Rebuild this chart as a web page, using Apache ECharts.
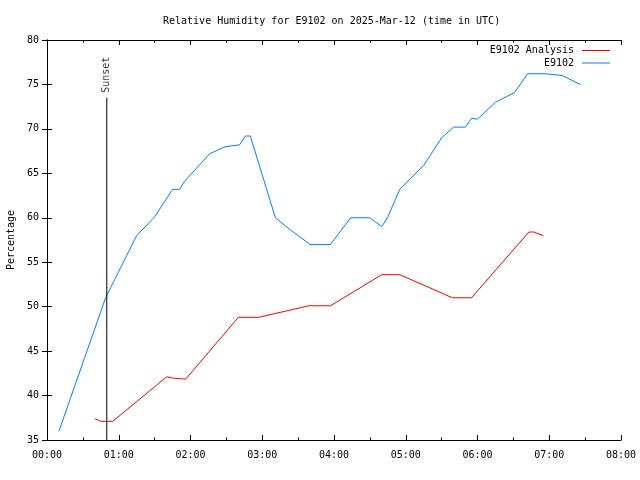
<!DOCTYPE html>
<html>
<head>
<meta charset="utf-8">
<script src="https://cdn.jsdelivr.net/npm/echarts@6/dist/echarts.min.js"></script>
<style>html,body{margin:0;padding:0;background:#fff}#c{width:640px;height:480px}</style>
</head>
<body>
<div id="c"></div>
<script>
// minutes after 00:00 UTC
var obsTimes  = [10, 49, 75, 90, 105, 111, 115, 136, 149, 161, 166, 170, 191, 203, 220, 237, 254, 270, 280, 285, 295, 315, 330, 340, 350, 355, 360, 375, 391, 402, 417, 418, 431, 446];
var obsValues = [36.0, 51.0, 58.0, 60.1, 63.2, 63.2, 64.1, 67.2, 68.0, 68.2, 69.2, 69.2, 60.0, 58.7, 57.0, 57.0, 60.0, 60.0, 59.0, 60.1, 63.2, 65.9, 69.0, 70.2, 70.2, 71.2, 71.1, 73.0, 74.1, 76.2, 76.2, 76.0, 76.0, 75.0];
var anaTimes  = [40, 45, 55, 100, 106, 116, 160, 177, 219, 237, 280, 295, 339, 355, 403, 407, 415];
var anaValues = [37.4, 37.1, 37.1, 42.1, 41.95, 41.85, 48.8, 48.8, 50.1, 50.1, 53.6, 53.6, 51.0, 51.0, 58.4, 58.4, 58.0];
var sunsetTime = 50;
var sunsetTop = 73.5;
var xTickLabels = ['00:00','01:00','02:00','03:00','04:00','05:00','06:00','07:00','08:00'];
var seriesNames = ['E9102 Analysis', 'E9102'];

function pairs(t, v) { return t.map(function (x, i) { return [x, v[i]]; }); }

var FONT = 'DejaVu Sans Mono';
var chart = echarts.init(document.getElementById('c'), null, {renderer: 'canvas'});
var axisTxt = {color: '#000', fontFamily: FONT, fontSize: 10};
chart.setOption({
  animation: false,
  backgroundColor: '#fff',
  title: {
    text: 'Relative Humidity for E9102 on 2025-Mar-12 (time in UTC)',
    left: 163, top: 16, padding: 0,
    textStyle: {color: '#000', fontFamily: FONT, fontSize: 10, fontWeight: 'normal'}
  },
  legend: [
    {data: [seriesNames[0]], right: 30, top: 45.5, padding: 0, align: 'right', orient: 'vertical',
     icon: 'rect', itemWidth: 28, itemHeight: 1, textStyle: Object.assign({padding: [0, 3, 0, 0]}, axisTxt)},
    {data: [seriesNames[1]], right: 30, top: 58, padding: 0, align: 'right', orient: 'vertical',
     icon: 'rect', itemWidth: 28, itemHeight: 1, textStyle: Object.assign({padding: [0, 3, 0, 0]}, axisTxt)}
  ],
  grid: {left: 47, right: 19, top: 40, bottom: 40, containLabel: false, outerBoundsMode: 'none'},
  xAxis: [
    {type: 'value', min: 0, max: 480, interval: 60, position: 'bottom',
     axisLine: {lineStyle: {color: '#000', width: 1}},
     axisTick: {inside: true, length: 5, lineStyle: {color: '#000'}},
     minorTick: {show: true, splitNumber: 2, length: 2.5, lineStyle: {color: '#000'}},
     splitLine: {show: false},
     axisLabel: Object.assign({margin: 10, formatter: function (v) { return xTickLabels[Math.round(v / 60)]; }}, axisTxt)},
    {type: 'value', min: 0, max: 480, interval: 60, position: 'top',
     axisLine: {lineStyle: {color: '#000', width: 1}},
     axisTick: {inside: true, length: 5, lineStyle: {color: '#000'}},
     minorTick: {show: true, splitNumber: 2, length: 2.5, lineStyle: {color: '#000'}},
     splitLine: {show: false}, axisLabel: {show: false}}
  ],
  yAxis: [
    {type: 'value', min: 35, max: 80, interval: 5, position: 'left',
     name: 'Percentage', nameLocation: 'middle', nameGap: 31, nameRotate: 90,
     nameTextStyle: axisTxt,
     axisLine: {show: true, lineStyle: {color: '#000', width: 1}},
     axisTick: {show: true, inside: true, length: 5, lineStyle: {color: '#000'}},
     splitLine: {show: false},
     axisLabel: Object.assign({margin: 8}, axisTxt)},
    {type: 'value', min: 35, max: 80, interval: 5, position: 'right',
     axisLine: {show: true, lineStyle: {color: '#000', width: 1}},
     axisTick: {show: true, inside: true, length: 5, lineStyle: {color: '#000'}},
     splitLine: {show: false}, axisLabel: {show: false}}
  ],
  series: [
    {name: seriesNames[0], type: 'line', data: pairs(anaTimes, anaValues), showSymbol: false, symbol: 'none',
     color: '#ff0000', lineStyle: {width: 1, color: '#ff0000'}},
    {name: seriesNames[1], type: 'line', data: pairs(obsTimes, obsValues), showSymbol: false, symbol: 'none',
     color: '#0080ff', lineStyle: {width: 1, color: '#0080ff'}},
    {name: 'sunsetLine', type: 'line', data: [[sunsetTime, 35], [sunsetTime, sunsetTop]], symbol: 'none',
     color: '#000', lineStyle: {width: 1, color: '#000'}},
    {name: 'sunsetLabel', type: 'scatter', data: [[sunsetTime, sunsetTop]], symbolSize: 0,
     label: {show: true, formatter: 'Sunset', position: 'top', distance: 5, rotate: 90,
             align: 'left', verticalAlign: 'middle', color: '#000', fontFamily: FONT, fontSize: 10}}
  ]
});
</script>
</body>
</html>
